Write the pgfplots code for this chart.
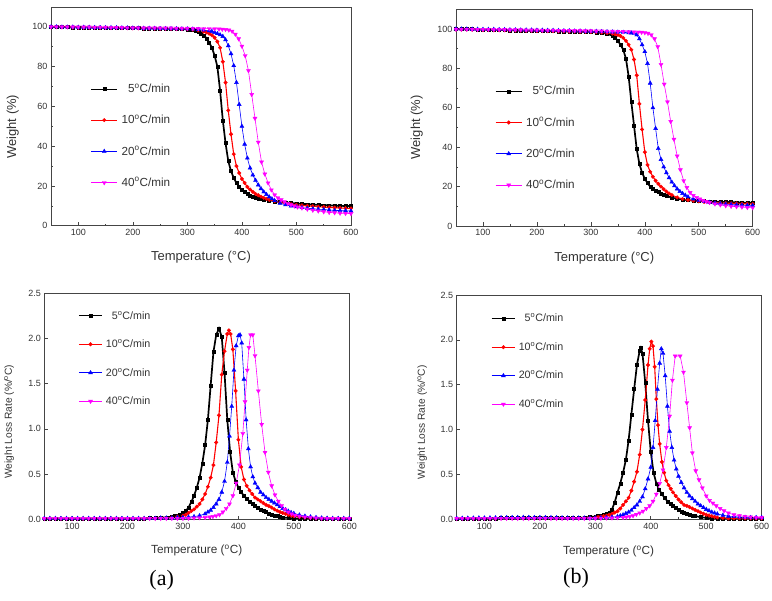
\documentclass[border=0pt]{standalone}
\usepackage{pgfplots}
\pgfplotsset{compat=1.18}
\usepackage{fontspec}
\setmainfont{Liberation Sans}
\newfontfamily\seriffont{Liberation Serif}
\definecolor{axgray}{HTML}{454545}
\definecolor{txtgray}{HTML}{333333}
\definecolor{cred}{HTML}{FF0000}
\definecolor{cblue}{HTML}{0000FF}
\definecolor{cmag}{HTML}{FF00FF}
\pgfplotsset{
  common/.style={
    scale only axis,
    xmin=50, xmax=600,
    xtick={100,200,...,600},
    minor xtick={150,250,...,550},
    tick align=inside,
    tick pos=left,
    major tick length=3.5pt,
    minor tick length=2pt,
    axis line style={axgray, line width=0.8pt},
    tick style={axgray, line width=0.6pt},
    tick label style={font=\fontsize{9}{11}\selectfont, text=txtgray},
    /pgf/number format/assume math mode=true,
    legend cell align=right,
    clip=true,
  },
  topax/.style={common,
    ymin=0, ymax=110,
    ytick={0,20,...,100},
    minor ytick={10,30,...,90},
    xlabel={Temperature (°C)},
    ylabel={Weight (\%)},
    label style={font=\fontsize{13}{15}\selectfont, text=txtgray},
    legend image code/.code={\draw[mark repeat=2,mark phase=2,##1,line width=0.7pt] plot coordinates {(0pt,0pt) (13pt,0pt) (26pt,0pt)};},
    legend style={draw=none, fill=none, anchor=north west, inner sep=0pt,
      font=\fontsize{11.7}{14}\selectfont, text=txtgray, row sep=21pt,
      nodes={inner sep=0pt}, column sep=4pt},
  },
  botax/.style={common,
    ymin=0, ymax=2.5,
    ytick={0,0.5,1,1.5,2,2.5},
    yticklabel style={/pgf/number format/fixed, /pgf/number format/fixed zerofill, /pgf/number format/precision=1},
    xlabel={Temperature (\textsuperscript{o}C)},
    ylabel={Weight Loss Rate (\%/\textsuperscript{o}C)},
    xlabel style={font=\fontsize{11.8}{14}\selectfont, text=txtgray},
    ylabel style={font=\fontsize{10.2}{12}\selectfont, text=txtgray},
    legend image code/.code={\draw[mark repeat=2,mark phase=2,##1,line width=0.7pt] plot coordinates {(0pt,0pt) (11.7pt,0pt) (23.4pt,0pt)};},
    legend style={draw=none, fill=none, anchor=north west, inner sep=0pt,
      font=\fontsize{10.7}{13}\selectfont, text=txtgray, row sep=19pt,
      nodes={inner sep=0pt}, column sep=3.3pt},
  },
  sA/.style={black, line width=1.7pt, mark=square*, mark size=1.5pt, mark options={solid, line width=0.4pt}},
  sB/.style={cred, line width=1.1pt, mark=*, mark size=1.8pt, mark options={solid, line width=0.4pt}},
  sC/.style={cblue, line width=0.6pt, mark=triangle*, mark size=2.3pt, mark options={solid, line width=0.4pt}},
  sD/.style={cmag, line width=0.6pt, mark=triangle*, mark size=2.3pt, mark options={solid, rotate=180, line width=0.4pt}},
}
\begin{document}
\begin{tikzpicture}
\useasboundingbox (0pt,0pt) rectangle (772pt,601pt);

% ---------------- top left: TGA (a)
\begin{axis}[topax, at={(51pt,375.3pt)}, anchor=south west, width=300pt, height=218.7pt,
  xlabel style={at={(axis description cs:0.5,-0.1417)}, anchor=center},
  ylabel style={at={(axis description cs:-0.1277,0.4527)}, anchor=center},
  legend style={at={(axis description cs:0.1323,0.650)}}]
\addplot[sA] coordinates {(50,100.0)(60,100.0)(70,99.9)(80,99.9)(90,99.8)(100,99.8)(110,99.8)(120,99.7)(130,99.7)(140,99.6)(150,99.6)(160,99.6)(170,99.5)(180,99.5)(190,99.4)(200,99.4)(210,99.4)(220,99.3)(230,99.3)(240,99.2)(250,99.2)(260,99.1)(270,99.1)(280,99.0)(290,98.9)(300,98.8)(305,98.7)(310,98.4)(315,98.1)(320,97.6)(325,96.8)(330,95.8)(335,94.3)(340,92.2)(345,89.5)(350,85.5)(355,80)(360,68)(365,53)(370,41.5)(375,32.5)(380,27.5)(385,24)(390,21.5)(395,19.5)(400,18)(405,17)(410,16)(415,15.2)(420,14.5)(425,14)(430,13.6)(435,13.4)(440,13.2)(450,12.8)(460,12.3)(470,12.0)(480,11.7)(490,11.4)(500,11.2)(510,11.0)(520,10.8)(530,10.6)(540,10.5)(550,10.3)(560,10.2)(570,10.1)(580,10.0)(590,9.9)(600,9.9)};
\addplot[sB] coordinates {(50,99.9)(60,99.9)(70,99.9)(80,99.8)(90,99.8)(100,99.7)(110,99.7)(120,99.7)(130,99.6)(140,99.6)(150,99.5)(160,99.5)(170,99.5)(180,99.4)(190,99.4)(200,99.3)(210,99.3)(220,99.2)(230,99.2)(240,99.1)(250,99.1)(260,99.0)(270,99.0)(280,98.9)(290,98.9)(300,98.8)(310,98.6)(320,98.3)(330,97.6)(335,97.2)(340,96.6)(345,95.8)(350,94.6)(355,92.6)(360,89.5)(365,82.5)(370,72)(375,58)(380,46)(385,36)(390,30)(395,26.5)(400,23.5)(405,21.5)(410,19.5)(415,18.2)(420,17)(425,16)(430,15.3)(435,14.6)(440,14)(445,13.5)(450,13)(460,12.3)(470,11.7)(480,11.2)(490,10.8)(500,10.5)(510,10.2)(520,10)(530,9.8)(540,9.6)(550,9.4)(560,9.2)(570,9.1)(580,8.9)(590,8.8)(600,8.7)};
\addplot[sC] coordinates {(50,100)(60,100)(70,99.9)(80,99.9)(90,99.9)(100,99.8)(110,99.8)(120,99.8)(130,99.7)(140,99.7)(150,99.6)(160,99.6)(170,99.6)(180,99.5)(190,99.5)(200,99.4)(210,99.4)(220,99.3)(230,99.3)(240,99.3)(250,99.2)(260,99.2)(270,99.1)(280,99.1)(290,99.0)(300,99.0)(310,98.9)(320,98.7)(330,98.4)(340,98)(345,97.7)(350,97.2)(355,96.6)(360,96)(365,95.2)(370,93.5)(375,90.5)(380,86.5)(385,80.5)(390,72)(395,61)(400,50)(405,41)(410,34)(415,29)(420,25.5)(425,22.8)(430,20.5)(435,18.6)(440,17)(445,15.7)(450,14.5)(455,13.5)(460,12.6)(470,11.3)(480,10.5)(490,9.9)(500,9.5)(510,9.1)(520,8.8)(530,8.5)(540,8.3)(550,8.1)(560,7.9)(570,7.7)(580,7.6)(590,7.5)(600,7.4)};
\addplot[sD] coordinates {(50,100.1)(60,100.1)(70,100)(80,100)(90,100)(100,99.9)(110,99.9)(120,99.9)(130,99.8)(140,99.8)(150,99.8)(160,99.7)(170,99.7)(180,99.7)(190,99.6)(200,99.6)(210,99.6)(220,99.5)(230,99.5)(240,99.5)(250,99.4)(260,99.4)(270,99.4)(280,99.3)(290,99.3)(300,99.3)(310,99.2)(320,99.2)(330,99.1)(340,99.1)(350,99)(358,98.9)(364,98.8)(370,98.7)(376,98.4)(382,97.8)(388,96.3)(394,94)(400,90.3)(406,85.5)(412,78)(418,66)(424,54)(430,42)(436,32)(442,26)(448,21.5)(454,18)(460,15.5)(466,14)(472,13)(478,12)(484,11.2)(490,10.5)(496,9.9)(502,9.4)(510,8.9)(520,8.3)(530,7.8)(540,7.4)(550,7)(560,6.7)(570,6.5)(580,6.3)(590,6.2)(600,6.1)};
\legend{5\textsuperscript{o}C/min,10\textsuperscript{o}C/min,20\textsuperscript{o}C/min,40\textsuperscript{o}C/min}
\end{axis}

% ---------------- top right: TGA (b)
\begin{axis}[topax, at={(456pt,375pt)}, anchor=south west, width=296.7pt, height=216.7pt,
  xlabel style={at={(axis description cs:0.4998,-0.1463)}, anchor=center},
  ylabel style={at={(axis description cs:-0.1325,0.4555)}, anchor=center},
  legend style={at={(axis description cs:0.132,0.6464)}}]
\addplot[sA] coordinates {(50,100)(60,100)(70,99.9)(80,99.9)(90,99.8)(100,99.7)(110,99.7)(120,99.6)(130,99.5)(140,99.4)(150,99.3)(160,99.3)(170,99.2)(180,99.1)(190,99.1)(200,99.0)(210,99.0)(220,98.9)(230,98.9)(240,98.8)(250,98.8)(260,98.7)(270,98.7)(280,98.6)(290,98.6)(300,98.5)(310,98.3)(320,98.0)(330,97.6)(340,96.6)(345,95.5)(350,94)(355,92)(360,89.5)(365,85)(370,76)(375,63)(380,51)(385,39)(390,31.5)(395,27)(400,24)(405,21.8)(410,20)(415,18.9)(420,18)(425,17.2)(430,16.5)(435,15.9)(440,15.3)(450,14.4)(460,13.8)(470,13.4)(480,13.1)(490,12.9)(500,12.7)(510,12.6)(520,12.5)(530,12.4)(540,12.3)(550,12.2)(560,12.1)(570,12.0)(580,11.9)(590,11.8)(600,11.8)};
\addplot[sB] coordinates {(50,99.7)(60,99.7)(70,99.7)(80,99.6)(90,99.6)(100,99.5)(110,99.5)(120,99.4)(130,99.4)(140,99.4)(150,99.3)(160,99.3)(170,99.2)(180,99.1)(190,99.1)(200,99.0)(210,99.0)(220,98.9)(230,98.9)(240,98.8)(250,98.8)(260,98.7)(270,98.7)(280,98.6)(290,98.6)(300,98.5)(310,98.4)(320,98.2)(330,98)(340,97.7)(345,97.4)(350,97)(355,96.4)(360,95.5)(365,94)(370,92)(375,89.5)(380,84.5)(385,76.5)(390,62)(395,49)(400,37.5)(405,31)(410,27.5)(415,25)(420,23)(425,21.4)(430,20)(435,18.7)(440,17.5)(445,16.5)(450,15.7)(460,14.5)(470,13.7)(480,13.2)(490,12.8)(500,12.5)(510,12.2)(520,12)(530,11.8)(540,11.7)(550,11.6)(560,11.5)(570,11.4)(580,11.3)(590,11.3)(600,11.2)};
\addplot[sC] coordinates {(50,100)(60,100)(70,100)(80,99.9)(90,99.9)(100,99.8)(110,99.8)(120,99.8)(130,99.7)(140,99.7)(150,99.6)(160,99.6)(170,99.5)(180,99.5)(190,99.5)(200,99.4)(210,99.4)(220,99.3)(230,99.3)(240,99.2)(250,99.1)(260,99.1)(270,99.0)(280,99.0)(290,98.9)(300,98.8)(310,98.8)(320,98.7)(330,98.6)(340,98.5)(350,98.4)(360,98.3)(370,98.1)(375,98)(380,97.8)(385,97)(390,95)(395,92)(400,88.5)(405,82.5)(410,72.5)(415,60)(420,49.5)(425,39.3)(430,33.8)(435,30)(440,27)(445,24.5)(450,22.3)(455,20.4)(460,18.8)(465,17.5)(470,16.5)(475,15.6)(480,14.8)(490,13.7)(500,13)(510,12.4)(520,12)(530,11.6)(540,11.3)(550,11.1)(560,10.9)(570,10.7)(580,10.6)(590,10.5)(600,10.4)};
\addplot[sD] coordinates {(50,99.9)(60,99.9)(70,99.9)(80,99.9)(90,99.8)(100,99.8)(110,99.8)(120,99.7)(130,99.7)(140,99.7)(150,99.6)(160,99.6)(170,99.6)(180,99.5)(190,99.5)(200,99.5)(210,99.4)(220,99.4)(230,99.4)(240,99.3)(250,99.3)(260,99.3)(270,99.2)(280,99.2)(290,99.1)(300,99.1)(310,99.0)(320,99.0)(330,98.9)(340,98.9)(350,98.8)(360,98.7)(370,98.6)(380,98.5)(388,98.4)(394,98.3)(400,98.1)(406,97.8)(412,97)(418,95)(424,91)(430,82)(436,72)(442,63)(448,53)(454,44)(460,35.5)(466,28.5)(472,23)(478,19.5)(484,17)(490,15.5)(496,14.5)(502,13.7)(508,13)(514,12.4)(520,11.9)(530,11.2)(540,10.7)(550,10.3)(560,10)(570,9.8)(580,9.6)(590,9.4)(600,9.3)};
\legend{5\textsuperscript{o}C/min,10\textsuperscript{o}C/min,20\textsuperscript{o}C/min,40\textsuperscript{o}C/min}
\end{axis}

% ---------------- bottom left: DTG (a)
\begin{axis}[botax, at={(44.3pt,81.7pt)}, anchor=south west, width=305pt, height=226pt,
  xlabel style={at={(axis description cs:0.4997,-0.139)}, anchor=center},
  ylabel style={at={(axis description cs:-0.1151,0.4319)}, anchor=center},
  legend style={at={(axis description cs:0.1115,0.9225)}}]
\addplot[sA] coordinates {(50,0.01)(60,0.01)(70,0.01)(80,0.01)(90,0.01)(100,0.01)(110,0.01)(120,0.01)(130,0.01)(140,0.01)(150,0.01)(160,0.01)(170,0.01)(180,0.01)(190,0.01)(200,0.01)(210,0.01)(220,0.01)(230,0.01)(240,0.015)(250,0.015)(260,0.02)(270,0.02)(280,0.03)(285,0.035)(290,0.045)(295,0.055)(300,0.07)(305,0.09)(310,0.13)(315,0.19)(320,0.26)(325,0.35)(330,0.46)(335,0.62)(340,0.82)(345,1.1)(350,1.48)(355,1.85)(360,2.04)(365,2.11)(370,2.02)(375,1.62)(380,1.1)(385,0.75)(390,0.52)(395,0.42)(400,0.35)(405,0.3)(410,0.26)(415,0.23)(420,0.2)(425,0.17)(430,0.15)(435,0.13)(440,0.11)(445,0.095)(450,0.08)(455,0.065)(460,0.05)(465,0.04)(470,0.035)(475,0.028)(480,0.02)(490,0.015)(500,0.01)(510,0.01)(520,0.01)(530,0.01)(540,0.01)(550,0.01)(560,0.01)(570,0.01)(580,0.01)(590,0.01)(600,0.01)};
\addplot[sB] coordinates {(50,0.01)(60,0.01)(70,0.01)(80,0.01)(90,0.01)(100,0.01)(110,0.01)(120,0.01)(130,0.01)(140,0.01)(150,0.01)(160,0.01)(170,0.01)(180,0.01)(190,0.01)(200,0.01)(210,0.01)(220,0.01)(230,0.01)(240,0.01)(250,0.01)(260,0.015)(270,0.015)(280,0.02)(290,0.03)(300,0.04)(305,0.05)(310,0.07)(315,0.09)(320,0.11)(325,0.14)(330,0.17)(335,0.22)(340,0.28)(345,0.36)(350,0.46)(355,0.6)(360,0.85)(365,1.15)(370,1.6)(375,1.86)(380,2.05)(383,2.09)(386,2.05)(390,1.88)(395,1.42)(400,0.88)(405,0.58)(410,0.44)(415,0.37)(420,0.32)(425,0.28)(430,0.24)(435,0.22)(440,0.2)(445,0.18)(450,0.16)(455,0.145)(460,0.13)(465,0.11)(470,0.095)(475,0.08)(480,0.07)(485,0.06)(490,0.05)(495,0.04)(500,0.035)(510,0.025)(520,0.02)(530,0.015)(540,0.01)(550,0.01)(560,0.01)(570,0.01)(580,0.01)(590,0.01)(600,0.01)};
\addplot[sC] coordinates {(50,0.01)(60,0.01)(70,0.01)(80,0.01)(90,0.01)(100,0.01)(110,0.01)(120,0.01)(130,0.01)(140,0.01)(150,0.01)(160,0.01)(170,0.01)(180,0.01)(190,0.01)(200,0.01)(210,0.01)(220,0.01)(230,0.01)(240,0.01)(250,0.01)(260,0.015)(270,0.015)(280,0.015)(290,0.02)(300,0.02)(310,0.025)(320,0.03)(330,0.04)(340,0.06)(345,0.08)(350,0.1)(355,0.13)(360,0.17)(365,0.22)(370,0.3)(375,0.42)(380,0.63)(384,0.92)(388,1.25)(392,1.65)(396,1.92)(400,2.03)(403,2.04)(406,1.95)(410,1.55)(414,1.1)(418,0.78)(422,0.58)(426,0.47)(430,0.4)(435,0.35)(440,0.3)(445,0.27)(450,0.24)(455,0.22)(460,0.2)(465,0.18)(470,0.16)(475,0.14)(480,0.12)(485,0.105)(490,0.09)(495,0.075)(500,0.065)(510,0.048)(520,0.035)(530,0.027)(540,0.02)(550,0.015)(560,0.012)(570,0.01)(580,0.01)(590,0.01)(600,0.01)};
\addplot[sD] coordinates {(50,0.01)(60,0.01)(70,0.01)(80,0.01)(90,0.01)(100,0.01)(110,0.01)(120,0.01)(130,0.01)(140,0.01)(150,0.01)(160,0.01)(170,0.01)(180,0.01)(190,0.01)(200,0.01)(210,0.01)(220,0.01)(230,0.01)(240,0.01)(250,0.01)(260,0.01)(270,0.01)(280,0.01)(290,0.01)(300,0.01)(310,0.012)(320,0.015)(330,0.018)(340,0.02)(348,0.025)(354,0.03)(360,0.04)(366,0.05)(372,0.08)(378,0.12)(384,0.17)(390,0.26)(396,0.4)(402,0.6)(408,0.95)(412,1.3)(416,1.65)(419,1.9)(422,2.04)(426,2.04)(430,1.81)(436,1.42)(442,1.05)(448,0.74)(454,0.52)(460,0.37)(466,0.27)(472,0.2)(478,0.15)(484,0.11)(490,0.08)(496,0.06)(502,0.045)(510,0.035)(520,0.025)(530,0.02)(540,0.015)(550,0.012)(560,0.01)(570,0.01)(580,0.01)(590,0.01)(600,0.01)};
\legend{5\textsuperscript{o}C/min,10\textsuperscript{o}C/min,20\textsuperscript{o}C/min,40\textsuperscript{o}C/min}
\end{axis}

% ---------------- bottom right: DTG (b)
\begin{axis}[botax, at={(456.7pt,81.7pt)}, anchor=south west, width=305pt, height=224.3pt,
  xlabel style={at={(axis description cs:0.498,-0.1444)}, anchor=center},
  ylabel style={at={(axis description cs:-0.1131,0.4325)}, anchor=center},
  legend style={at={(axis description cs:0.1130,0.9165)}}]
\addplot[sA] coordinates {(50,0.01)(60,0.01)(70,0.01)(80,0.01)(90,0.01)(100,0.01)(110,0.01)(120,0.012)(130,0.013)(140,0.014)(150,0.015)(160,0.016)(170,0.017)(180,0.018)(190,0.019)(200,0.02)(210,0.019)(220,0.018)(230,0.017)(240,0.016)(250,0.015)(260,0.015)(270,0.016)(280,0.02)(290,0.025)(300,0.03)(305,0.035)(310,0.04)(315,0.05)(320,0.06)(325,0.07)(330,0.11)(335,0.19)(340,0.3)(345,0.4)(350,0.52)(355,0.66)(360,0.88)(365,1.17)(370,1.45)(375,1.72)(380,1.88)(382,1.91)(385,1.85)(390,1.52)(395,1.1)(400,0.75)(405,0.52)(410,0.4)(415,0.33)(420,0.28)(425,0.24)(430,0.2)(435,0.17)(440,0.15)(445,0.13)(450,0.11)(455,0.09)(460,0.075)(465,0.06)(470,0.05)(475,0.042)(480,0.035)(490,0.025)(500,0.015)(510,0.012)(520,0.01)(530,0.01)(540,0.01)(550,0.01)(560,0.01)(570,0.01)(580,0.01)(590,0.01)(600,0.01)};
\addplot[sB] coordinates {(50,0.01)(60,0.01)(70,0.01)(80,0.01)(90,0.01)(100,0.01)(110,0.01)(120,0.01)(130,0.012)(140,0.012)(150,0.013)(160,0.014)(170,0.015)(180,0.015)(190,0.015)(200,0.015)(210,0.014)(220,0.013)(230,0.012)(240,0.012)(250,0.012)(260,0.013)(270,0.014)(280,0.015)(290,0.018)(300,0.02)(305,0.025)(310,0.03)(315,0.035)(320,0.04)(325,0.05)(330,0.06)(335,0.075)(340,0.09)(345,0.12)(350,0.16)(355,0.2)(360,0.24)(365,0.32)(370,0.42)(375,0.53)(380,0.72)(385,1.0)(390,1.33)(395,1.72)(398,1.9)(401,1.98)(404,1.93)(407,1.7)(410,1.34)(413,1.05)(416,0.84)(420,0.64)(424,0.52)(428,0.43)(432,0.38)(436,0.34)(440,0.3)(445,0.26)(450,0.22)(455,0.19)(460,0.16)(465,0.15)(470,0.135)(475,0.12)(480,0.105)(485,0.09)(490,0.075)(495,0.062)(500,0.05)(505,0.042)(510,0.035)(515,0.027)(520,0.02)(530,0.015)(540,0.01)(550,0.01)(560,0.01)(570,0.01)(580,0.01)(590,0.01)(600,0.01)};
\addplot[sC] coordinates {(50,0.01)(60,0.012)(70,0.013)(80,0.014)(90,0.015)(100,0.015)(110,0.016)(120,0.017)(130,0.018)(140,0.019)(150,0.02)(160,0.02)(170,0.021)(180,0.021)(190,0.02)(200,0.02)(210,0.02)(220,0.019)(230,0.018)(240,0.017)(250,0.015)(260,0.015)(270,0.015)(280,0.015)(290,0.015)(300,0.015)(310,0.018)(320,0.02)(330,0.025)(340,0.03)(345,0.04)(350,0.05)(355,0.065)(360,0.08)(365,0.1)(370,0.13)(375,0.16)(380,0.2)(385,0.25)(390,0.34)(395,0.45)(400,0.58)(404,0.8)(408,1.1)(412,1.45)(416,1.74)(419,1.9)(422,1.85)(426,1.6)(430,1.26)(434,0.98)(438,0.8)(442,0.66)(446,0.56)(450,0.48)(455,0.41)(460,0.35)(465,0.3)(470,0.26)(475,0.23)(480,0.2)(485,0.17)(490,0.15)(495,0.13)(500,0.11)(505,0.095)(510,0.08)(515,0.07)(520,0.06)(530,0.045)(540,0.035)(550,0.03)(560,0.025)(570,0.022)(580,0.02)(590,0.02)(600,0.02)};
\addplot[sD] coordinates {(50,0.01)(60,0.01)(70,0.01)(80,0.01)(90,0.01)(100,0.01)(110,0.01)(120,0.01)(130,0.01)(140,0.01)(150,0.01)(160,0.01)(170,0.01)(180,0.01)(190,0.01)(200,0.01)(210,0.01)(220,0.01)(230,0.01)(240,0.01)(250,0.01)(260,0.01)(270,0.01)(280,0.01)(290,0.01)(300,0.01)(310,0.012)(320,0.014)(330,0.015)(340,0.018)(350,0.02)(356,0.025)(362,0.03)(368,0.04)(374,0.055)(380,0.07)(386,0.09)(392,0.12)(398,0.15)(404,0.2)(410,0.28)(416,0.4)(422,0.55)(428,0.8)(434,1.15)(439,1.55)(444,1.82)(453,1.82)(459,1.64)(465,1.3)(470,1.02)(475,0.74)(481,0.54)(487,0.44)(493,0.35)(500,0.26)(506,0.21)(512,0.18)(518,0.15)(525,0.12)(532,0.095)(540,0.07)(550,0.05)(560,0.04)(570,0.03)(580,0.025)(590,0.02)(600,0.02)};
\legend{5\textsuperscript{o}C/min,10\textsuperscript{o}C/min,20\textsuperscript{o}C/min,40\textsuperscript{o}C/min}
\end{axis}

\node[font=\seriffont\fontsize{22}{26}\selectfont, text=black] at (161.7pt,21pt) {(a)};
\node[font=\seriffont\fontsize{22}{26}\selectfont, text=black] at (576pt,23pt) {(b)};
\end{tikzpicture}
\end{document}
